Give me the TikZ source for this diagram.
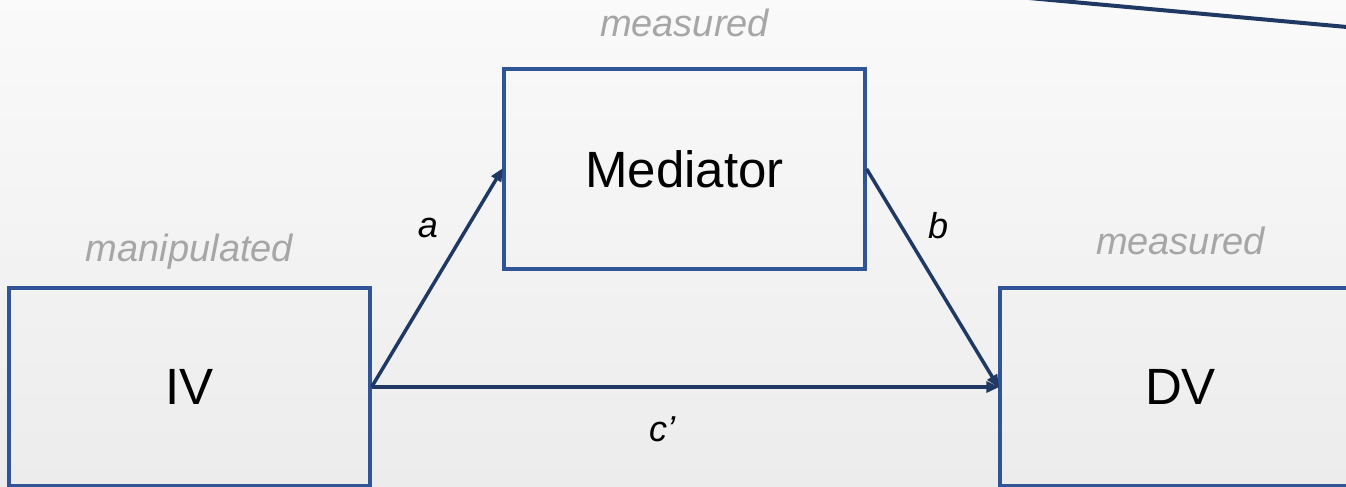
\documentclass[tikz,border=0pt]{standalone}
\usepackage{fontspec}
\setmainfont{Liberation Sans}
\usetikzlibrary{arrows.meta}
\definecolor{boxblue}{HTML}{2F5597}
\definecolor{arrowblue}{HTML}{203864}
\definecolor{lbl}{HTML}{A6A6A6}
\tikzset{
  varbox/.style={draw=boxblue, line width=3.3pt, minimum width=361pt, minimum height=198pt, inner sep=0pt, font=\fontsize{51}{60}\selectfont},
  note/.style={text=lbl, font=\fontsize{38}{44}\selectfont\itshape, inner sep=0pt},
  pathlbl/.style={font=\fontsize{36}{42}\selectfont\itshape, inner sep=0pt},
  conn/.style={draw=arrowblue, line width=3.5pt, -{Triangle[length=13pt,width=11pt]}, shorten >=-1pt}
}
\begin{document}
\begin{tikzpicture}[x=1pt,y=1pt]
\useasboundingbox (0,0) rectangle (1346,487);
\clip (0,0) rectangle (1346,487);
\shade[top color=white!98!black, bottom color=white!92.5!black] (0,0) rectangle (1346,487);
\node[varbox] (iv) at (189.5,100) {\raisebox{-2pt}{IV}};
\node[varbox, minimum height=200pt] (med) at (684.5,318) {\raisebox{-2pt}{Mediator}};
\node[varbox] (dv) at (1180.5,100) {\raisebox{-2pt}{DV}};
\node[note] at (189.5,235) {manipulated};
\node[note] at (684.5,464) {measured};
\node[note] at (1180.5,246) {measured};
\draw[conn] (iv.east) -- (med.west);
\draw[conn] (med.east) -- (dv.west);
\draw[conn] (iv.east) -- (dv.west);
\node[pathlbl] at (428,259) {a};
\node[pathlbl] at (938,261) {b};
\node[pathlbl] at (662,58) {c’};
\coordinate (tl) at (1020,489.8);
\coordinate (tr) at (1360,458.8);
\draw[arrowblue, line width=4pt] (tl) -- (tr);
\end{tikzpicture}
\end{document}
